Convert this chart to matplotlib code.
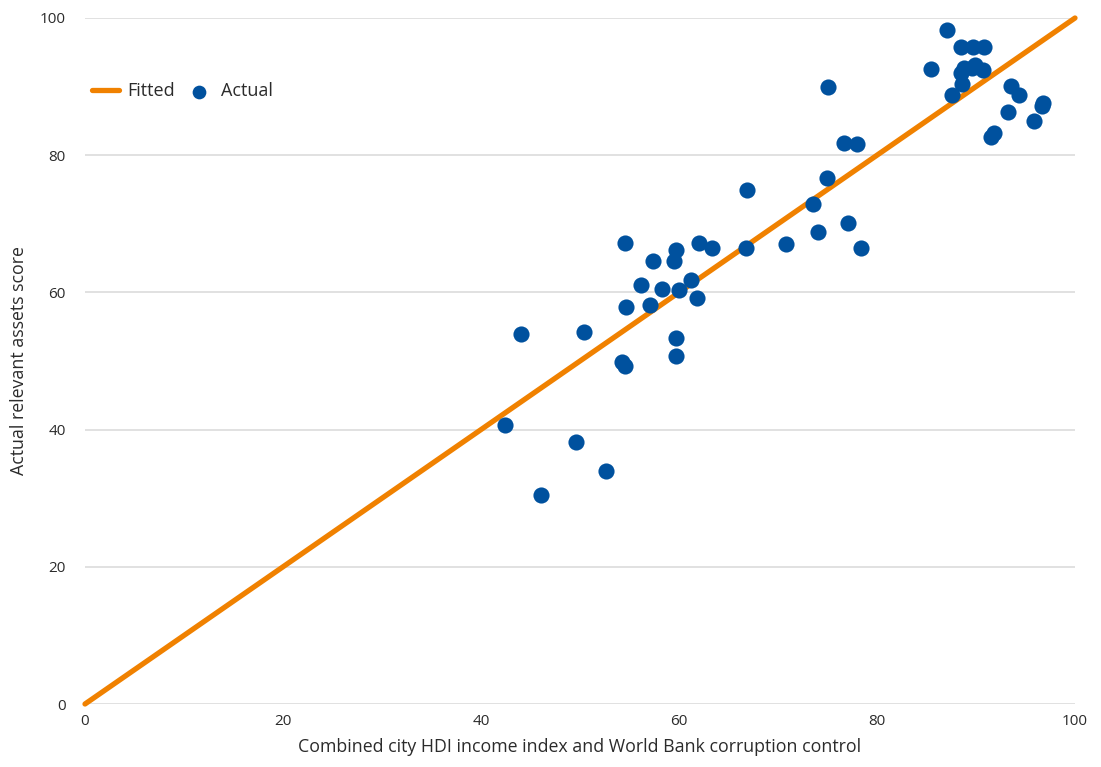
import matplotlib
matplotlib.use("Agg")
import matplotlib.pyplot as plt

# Combined city HDI income index and World Bank corruption control (x) vs. actual score (y)
hdi_corruption = [42.4, 44.0, 46.1, 49.6, 50.4, 52.6, 54.5, 54.6, 54.2, 54.5,
                  56.2, 57.4, 57.1, 58.3, 59.5, 59.7, 60.0, 59.7, 59.7, 61.2,
                  61.8, 62.0, 63.3, 66.9, 66.8, 70.8, 73.5, 74.0, 74.9, 75.1,
                  76.7, 78.0, 77.1, 78.4, 85.5, 87.1, 87.6, 88.5, 89.7, 90.8,
                  88.5, 88.8, 89.6, 89.9, 90.7, 88.6, 91.5, 91.8, 93.2, 93.5,
                  94.3, 95.9, 96.7, 96.8]
assets_score = [40.7, 53.9, 30.5, 38.2, 54.2, 34.0, 67.2, 57.9, 49.9, 49.3,
                61.1, 64.6, 58.2, 60.5, 64.6, 66.2, 60.3, 53.4, 50.7, 61.8,
                59.2, 67.2, 66.5, 74.9, 66.5, 67.1, 72.9, 68.8, 76.7, 89.9,
                81.8, 81.6, 70.1, 66.5, 92.6, 98.3, 88.8, 95.8, 95.8, 95.8,
                92.0, 92.7, 92.7, 93.1, 92.4, 90.4, 82.7, 83.2, 86.3, 90.1,
                88.8, 85.0, 87.2, 87.6]
fitted_x = [0, 100]
fitted_y = [0, 100]
ticks = [0, 20, 40, 60, 80, 100]

plt.rcParams['font.family'] = ['Open Sans', 'DejaVu Sans']
text_color = '#2b2b2b'

fig = plt.figure(figsize=(11.01, 7.67), dpi=100)
ax = fig.add_axes([85 / 1101, 63 / 767, 990 / 1101, 686 / 767])

ax.plot(fitted_x, fitted_y, color='#F08100', lw=3.8, solid_capstyle='round',
        zorder=3, clip_on=False, label='Fitted')
ax.scatter(hdi_corruption, assets_score, s=135, color='#00519E', zorder=4,
           linewidths=0, label='Actual')

ax.set_xlim(0, 100)
ax.set_ylim(0, 100)
ax.set_xticks(ticks)
ax.set_yticks(ticks)
ax.grid(axis='y', color='#d9d9d9', lw=1.1)
ax.set_axisbelow(True)
for s in ax.spines.values():
    s.set_visible(False)
ax.tick_params(axis='both', length=0, labelsize=11, labelcolor=text_color)
ax.tick_params(axis='x', pad=7)
ax.tick_params(axis='y', pad=14)

ax.set_xlabel('Combined city HDI income index and World Bank corruption control',
              fontsize=12.8, color=text_color, labelpad=7)
ax.set_ylabel('Actual relevant assets score', fontsize=12.8, color=text_color, labelpad=8)

leg = ax.legend(loc='center left', bbox_to_anchor=(0.0, 0.893), ncol=2, frameon=False,
                fontsize=13, handlelength=1.5, handletextpad=0.45, columnspacing=0.6,
                markerscale=0.85, borderaxespad=0, labelcolor=text_color)

fig.savefig('out.png', dpi=100)
